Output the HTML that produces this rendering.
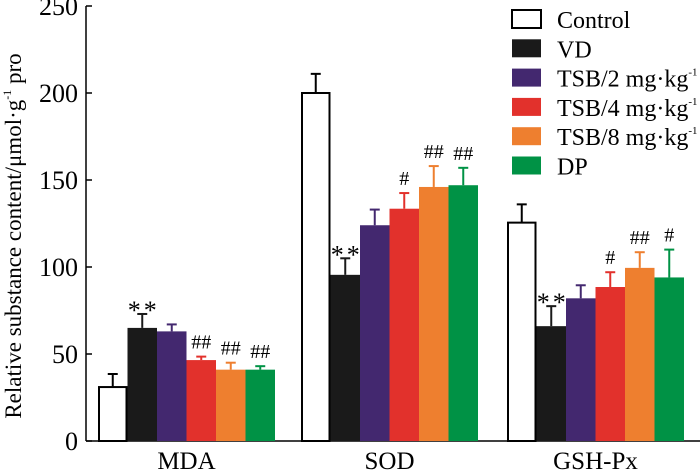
<!DOCTYPE html>
<html><head><meta charset="utf-8"><style>
body{margin:0;background:#fff}
svg{display:block;font-family:"Liberation Serif",serif}
</style></head><body>
<svg id="chart" width="700" height="471" xmlns="http://www.w3.org/2000/svg"></svg>
<script>
const groups = ["MDA","SOD","GSH-Px"];
const seriesNames = ["Control","VD","TSB/2 mg·kg","TSB/4 mg·kg","TSB/8 mg·kg","DP"];
const colors = ["#ffffff","#1a1a1a","#43286f","#e2312c","#ee7f2f","#009245"];
const valControl = [31,200,125.5];
const valVD = [65,95.5,66];
const valTSB2 = [63,124,82];
const valTSB4 = [46.5,133.5,88.5];
const valTSB8 = [41,146,99.5];
const valDP = [41,147,94];
const errControl = [7.5,11,10.5];
const errVD = [8,9.5,11.5];
const errTSB2 = [4,9,7.5];
const errTSB4 = [2,9,8.5];
const errTSB8 = [4,12,9];
const errDP = [2,10,16];
const marks = [["","**","","##","##","##"],["","**","","#","##","##"],["","**","","#","##","#"]];
const yTicks = [0,50,100,150,200,250];

const values=[valControl,valVD,valTSB2,valTSB4,valTSB8,valDP];
const errs=[errControl,errVD,errTSB2,errTSB4,errTSB8,errDP];
const NS="http://www.w3.org/2000/svg";
const svg=document.getElementById('chart');
const y0=441, pxPer=87/50;
const y=v=>y0-v*pxPer;
const groupX=[98,301,507], barW=29.5;
const x=(g,s)=>groupX[g]+s*barW;
function mk(tag,attrs,parent){const e=document.createElementNS(NS,tag);for(const k in attrs)e.setAttribute(k,attrs[k]);(parent||svg).appendChild(e);return e;}

let ax=mk('line',{x1:86,y1:6,x2:86,y2:y0,stroke:'#000','stroke-width':1.5});


let xa=mk('line',{x1:86,y1:y0,x2:700,y2:y0,stroke:'#000','stroke-width':1.5});


yTicks.forEach(t=>{
  let l=mk('line',{x1:86,y1:y(t),x2:92,y2:y(t),stroke:'#000','stroke-width':1.5});
  
  
  let tx=mk('text',{x:78,y:y(t)+9,'text-anchor':'end','font-size':26});
  tx.textContent=t;
  
  
});
let yt=mk('text',{x:0,y:0,'text-anchor':'middle','font-size':23,transform:'translate(21,236) rotate(-90)'});
yt.innerHTML='Relative substance content/μmol·g<tspan font-size="12" dy="-10">-1</tspan><tspan dy="10"> pro</tspan>';



groups.forEach((g,gi)=>{
  let gl=mk('text',{x:x(gi,3),y:469,'text-anchor':'middle','font-size':25});
  gl.textContent=g;
  
  
  values.forEach((arr,si)=>{
    const v=arr[gi], e=errs[si][gi], bx=x(gi,si), c=colors[si];
    const ec=si===0?'#000':c;
    const cx=bx+barW/2;
    let el=mk('line',{x1:cx,y1:y(v),x2:cx,y2:y(v+e),stroke:ec,'stroke-width':2});
    
    
    let cap=mk('line',{x1:cx-5,y1:y(v+e),x2:cx+5,y2:y(v+e),stroke:ec,'stroke-width':2});
    
    
    let r=mk('rect',{x:si===0?bx+1:bx,y:y(v),width:si===0?barW-2:barW,height:v*pxPer,fill:c,stroke:si===0?'#000':'none','stroke-width':2});
    
    
    const m=marks[gi][si];
    if(m){
      const star=m==='**';
      let t=mk('text',{x:cx+(star?1.5:0),y:star?y(v+e)+5:y(v+e)-8,'text-anchor':'middle','font-size':star?26:20,'letter-spacing':star?3:0});
      t.textContent=m;
      
      
    }
  });
});

seriesNames.forEach((n,i)=>{
  const ty=10+i*29.3;
  let r=mk('rect',{x:512,y:ty,width:29,height:18,fill:colors[i],stroke:i===0?'#000':'none','stroke-width':2});
  
  
  let t=mk('text',{x:557,y:ty+18,'font-size':24});
  t.textContent=n;
  if(n.indexOf('mg')>=0){let s=mk('tspan',{'font-size':11,dy:-11},t);s.textContent='-1';}
  
  
});
</script>
</body></html>
